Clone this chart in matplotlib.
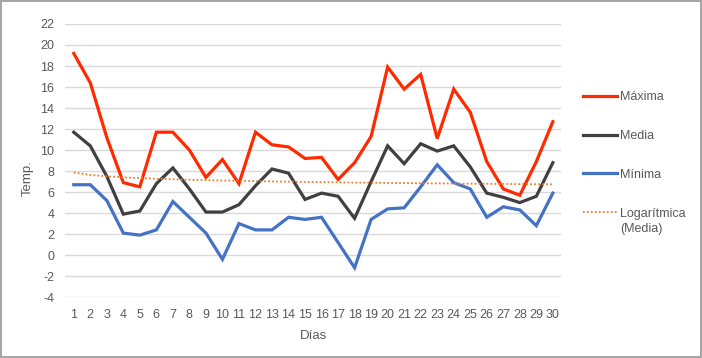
import numpy as np
import matplotlib
matplotlib.use("Agg")
import matplotlib.pyplot as plt

# daily temperatures
dias = list(range(1, 31))
maxima = [19.2, 16.4, 11.2, 6.9, 6.5, 11.7, 11.7, 10.0, 7.4, 9.1,
          6.8, 11.7, 10.5, 10.3, 9.2, 9.3, 7.2, 8.8, 11.3, 17.9,
          15.8, 17.2, 11.1, 15.8, 13.6, 8.9, 6.3, 5.7, 8.9, 12.7]
media = [11.7, 10.4, 7.5, 3.9, 4.2, 6.8, 8.3, 6.3, 4.1, 4.1,
         4.8, 6.6, 8.2, 7.8, 5.3, 5.9, 5.6, 3.5, 7.0, 10.4,
         8.7, 10.6, 9.9, 10.4, 8.4, 5.9, 5.5, 5.0, 5.6, 8.8]
minima = [6.7, 6.7, 5.2, 2.1, 1.9, 2.4, 5.1, 3.6, 2.1, -0.4,
          3.0, 2.4, 2.4, 3.6, 3.4, 3.6, 1.2, -1.2, 3.4, 4.4,
          4.5, 6.5, 8.6, 6.9, 6.3, 3.6, 4.6, 4.3, 2.8, 5.9]
yticks = list(range(-4, 23, 2))

plt.rcParams['font.family'] = ['Liberation Sans', 'DejaVu Sans']
plt.rcParams['axes.unicode_minus'] = False
txt = '#595959'

fig = plt.figure(figsize=(7.02, 3.58), dpi=100)
fig.patch.set_edgecolor('#a6a6a6')
fig.patch.set_linewidth(1.5)
ax = fig.add_axes([0.0933, 0.170, 0.706, 0.763])

x = np.array(dias)
ax.plot(x, maxima, color='#ff2a00', lw=2.3, label='Máxima', solid_joinstyle='miter')
ax.plot(x, media, color='#404040', lw=2.3, label='Media', solid_joinstyle='miter')
ax.plot(x, minima, color='#4472c4', lw=2.3, label='Mínima', solid_joinstyle='miter')

# logarithmic trendline of the mean
a, b = np.polyfit(np.log(x), media, 1)
ax.plot(x, a * np.log(x) + b, color='#ed7d31', lw=1.3, ls=(0, (1, 1.2)),
        label='Logarítmica')

ax.set_xlim(0.5, 30.5)
ax.set_ylim(-4, 22)
ax.set_xticks(dias)
ax.set_yticks(yticks)
ax.tick_params(length=0, labelsize=9, colors=txt)
ax.tick_params(axis='y', pad=8)
ax.tick_params(axis='x', pad=8.5)
ax.grid(axis='y', color='#d9d9d9', lw=1)
ax.set_axisbelow(True)
for s in ax.spines.values():
    s.set_visible(False)

ax.set_xlabel('Días', color=txt, fontsize=9.5)
ax.xaxis.set_label_coords(0.5, -0.12)
ax.set_ylabel('Temp.', color=txt, fontsize=9.5)
ax.yaxis.set_label_coords(-0.064, 0.436)

leg = fig.legend(loc='upper left', bbox_to_anchor=(0.815, 0.777), frameon=False,
                 fontsize=9, labelcolor=txt, handlelength=2.7, handletextpad=0.25,
                 labelspacing=2.15)

# second line of the trendline label, under "Logarítmica"
fig.canvas.draw()
bb = leg.get_texts()[-1].get_window_extent().transformed(fig.transFigure.inverted())
fig.text(bb.x0, bb.y0 - 0.01, '(Media)', color=txt, fontsize=9, va='top', ha='left')

fig.savefig('out.png', dpi=100, edgecolor=fig.get_edgecolor())
